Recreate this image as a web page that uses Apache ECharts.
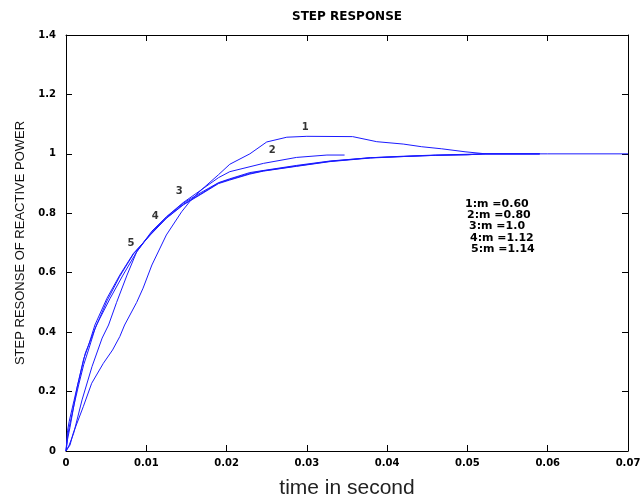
<!DOCTYPE html>
<html>
<head>
<meta charset="utf-8">
<style>
  html, body { margin: 0; padding: 0; background: #fff; }
  #chart { width: 643px; height: 497px; }
</style>
<script src="https://cdn.jsdelivr.net/npm/echarts/dist/echarts.min.js"></script>
</head>
<body>
<div id="chart"></div>
<script>
// Step response of reactive power for five values of m
const t1 = [0, 0.0005, 0.0009, 0.00215, 0.0032, 0.00465, 0.0058, 0.0067, 0.0073, 0.0088, 0.0096, 0.0107, 0.0125, 0.0144, 0.0154, 0.0167, 0.019, 0.0204, 0.0229, 0.025, 0.0275, 0.030, 0.0357, 0.0387, 0.042, 0.0443, 0.0468, 0.0497, 0.0523, 0.06, 0.07];
const y1 = [0, 0.02, 0.06, 0.149, 0.228, 0.295, 0.34, 0.385, 0.424, 0.50, 0.548, 0.626, 0.727, 0.805, 0.839, 0.875, 0.93, 0.965, 1.0, 1.04, 1.056, 1.059, 1.058, 1.041, 1.033, 1.024, 1.017, 1.007, 1.0, 1.0, 1.0];

const t2 = [0, 0.0004, 0.00096, 0.002, 0.00324, 0.0045, 0.0053, 0.0063, 0.0076, 0.0088, 0.0096, 0.0107, 0.0125, 0.0146, 0.0167, 0.019, 0.0204, 0.0246, 0.0287, 0.0325, 0.0347];
const y2 = [0, 0.02, 0.06, 0.172, 0.284, 0.38, 0.424, 0.50, 0.592, 0.67, 0.70, 0.74, 0.788, 0.836, 0.876, 0.92, 0.94, 0.968, 0.988, 0.996, 0.996];

const t3 = [0, 0.0002, 0.0005, 0.0014, 0.0024, 0.0038, 0.0055, 0.0071, 0.0088, 0.0105, 0.0125, 0.0146, 0.0167, 0.019, 0.0204, 0.0229, 0.0287, 0.0329, 0.0379, 0.042, 0.046, 0.0523, 0.059];
const y3 = [0, 0.04, 0.08, 0.216, 0.329, 0.424, 0.514, 0.592, 0.67, 0.73, 0.787, 0.834, 0.868, 0.903, 0.916, 0.937, 0.961, 0.976, 0.987, 0.992, 0.996, 1.0, 1.0];

const t4 = [0, 0.0002, 0.0004, 0.001, 0.0016, 0.0022, 0.0028, 0.0036, 0.0051, 0.0067, 0.0084, 0.0105, 0.0125, 0.0146, 0.0167, 0.019, 0.0204, 0.0229, 0.0246, 0.0287, 0.0329, 0.0379, 0.042, 0.046, 0.050, 0.0523, 0.059];
const y4 = [0, 0.05, 0.08, 0.155, 0.225, 0.29, 0.34, 0.41, 0.505, 0.588, 0.663, 0.728, 0.784, 0.83, 0.864, 0.902, 0.914, 0.934, 0.943, 0.959, 0.975, 0.987, 0.991, 0.995, 0.997, 1.0, 1.0];

const t5 = [0, 0.0002, 0.0004, 0.001, 0.0016, 0.0022, 0.0028, 0.0036, 0.0051, 0.0067, 0.0084, 0.0105, 0.0125, 0.0146, 0.0167, 0.019, 0.0204, 0.0229, 0.0246, 0.0287, 0.0329, 0.0379, 0.042, 0.046, 0.050, 0.0523, 0.059];
const y5 = [0, 0.07, 0.10, 0.17, 0.24, 0.31, 0.355, 0.424, 0.514, 0.592, 0.665, 0.727, 0.783, 0.828, 0.862, 0.90, 0.912, 0.932, 0.942, 0.958, 0.974, 0.986, 0.991, 0.995, 0.997, 1.0, 1.0];

// curve number tags placed next to each response
const tagT = [0.0298, 0.0257, 0.0141, 0.0111, 0.0081];
const tagY = [1.09, 1.012, 0.875, 0.79, 0.70];
const tagText = ['1', '2', '3', '4', '5'];

// parameter key
const keyLines = ['1:m =0.60', '2:m =0.80', '3:m =1.0', '4:m =1.12', '5:m =1.14'];
const keyX = [465, 467, 469, 470, 471];

const xTicks = { min: 0, max: 0.07, interval: 0.01 };
const yTicks = { min: 0, max: 1.4, interval: 0.2 };

const titleText = 'STEP RESPONSE';
const xName = 'time in second';
const yName = 'STEP RESONSE OF REACTIVE POWER';

const lineColor = '#1a1aff';
const tickFont = { fontFamily: 'DejaVu Sans', fontWeight: 'bold', fontSize: 10, color: '#000' };

function pairs(t, y) { return t.map((v, i) => [v, y[i]]); }
function fmt(v) { return String(Math.round(v * 100) / 100); }

const curves = [[t1, y1], [t2, y2], [t3, y3], [t4, y4], [t5, y5]];

const frameAxis = {
  axisLine: { show: true, onZero: false, lineStyle: { color: '#000', width: 1 } },
  axisTick: { show: true, inside: true, length: 6, lineStyle: { color: '#000' } },
  splitLine: { show: false }
};

const chart = echarts.init(document.getElementById('chart'), null, { renderer: 'canvas' });

chart.setOption({
  animation: false,
  backgroundColor: '#fff',
  grid: { left: 66, right: 15, top: 35, bottom: 46, containLabel: false, outerBoundsMode: 'none' },
  xAxis: [
    Object.assign({
      type: 'value', position: 'bottom', min: xTicks.min, max: xTicks.max, interval: xTicks.interval,
      axisLabel: Object.assign({ margin: 7, formatter: fmt }, tickFont),
      name: xName, nameLocation: 'middle', nameGap: 27,
      nameTextStyle: { fontFamily: 'Liberation Sans', fontSize: 21, color: '#222' }
    }, frameAxis),
    Object.assign({
      type: 'value', position: 'top', min: xTicks.min, max: xTicks.max, interval: xTicks.interval,
      axisLabel: { show: false }
    }, frameAxis)
  ],
  yAxis: [
    Object.assign({
      type: 'value', position: 'left', min: yTicks.min, max: yTicks.max, interval: yTicks.interval,
      axisLabel: Object.assign({ margin: 10, formatter: fmt }, tickFont),
      name: yName, nameLocation: 'middle', nameGap: 39, nameRotate: 90,
      nameTextStyle: { fontFamily: 'Liberation Sans', fontSize: 13, color: '#111' }
    }, frameAxis),
    Object.assign({
      type: 'value', position: 'right', min: yTicks.min, max: yTicks.max, interval: yTicks.interval,
      axisLabel: { show: false }
    }, frameAxis)
  ],
  series: curves.map((c, i) => ({
    type: 'line',
    name: tagText[i],
    xAxisIndex: 0, yAxisIndex: 0,
    data: pairs(c[0], c[1]),
    showSymbol: false,
    symbol: 'none',
    smooth: false,
    lineStyle: { color: lineColor, width: 1 },
    z: 3
  })).concat([{
    type: 'scatter',
    xAxisIndex: 0, yAxisIndex: 0,
    data: tagT.map((v, i) => ({ value: [v, tagY[i]], name: tagText[i] })),
    symbolSize: 1,
    itemStyle: { color: 'rgba(0,0,0,0)' },
    label: {
      show: true, position: 'inside', formatter: p => p.name,
      fontFamily: 'DejaVu Sans', fontWeight: 'bold', fontSize: 10, color: '#000'
    },
    z: 5
  }]),
  graphic: [
    {
      type: 'text', x: 347, y: 17,
      style: {
        text: titleText, fontFamily: 'DejaVu Sans', fontWeight: 'bold', fontSize: 12,
        fill: '#000', align: 'center', verticalAlign: 'middle'
      }
    }
  ].concat(keyLines.map((s, i) => ({
    type: 'text', x: keyX[i], y: 204 + i * 11.3,
    style: {
      text: s, fontFamily: 'DejaVu Sans', fontWeight: 'bold', fontSize: 11,
      fill: '#000', align: 'left', verticalAlign: 'middle'
    }
  })))
});
</script>
</body>
</html>
